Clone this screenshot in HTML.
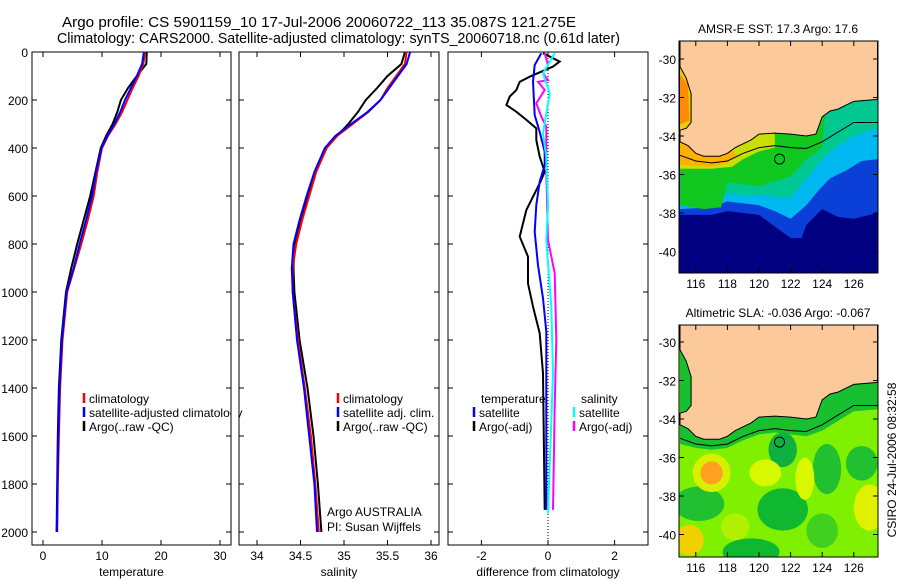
<!DOCTYPE html>
<html><head><meta charset="utf-8"><style>
html,body{margin:0;padding:0;background:#fff;}
svg text{font-family:"Liberation Sans",sans-serif;fill:#000;}
</style></head><body>
<svg id="fig" xmlns="http://www.w3.org/2000/svg" width="900" height="580" viewBox="0 0 900 580">
<rect width="900" height="580" fill="#fff"/>
<text x="62" y="27" font-size="14.5" textLength="514" lengthAdjust="spacingAndGlyphs">Argo profile: CS 5901159_10 17-Jul-2006 20060722_113 35.087S 121.275E</text>
<text x="57" y="43" font-size="14.5" textLength="563" lengthAdjust="spacingAndGlyphs">Climatology: CARS2000. Satellite-adjusted climatology: synTS_20060718.nc (0.61d later)</text>
<g id="panels"></g>
<g id="maps"></g>
<text transform="translate(896,460) rotate(-90)" text-anchor="middle" font-size="12">CSIRO 24-Jul-2006 08:32:58</text>
</svg>
<script>
// ---- data ----
const depths = [0,50,100,150,200,250,300,350,400,500,600,700,800,900,1000,1200,1400,1600,1800,2000];
const tempClim = [17.3,17.0,16.2,15.2,14.3,13.4,12.3,11.0,10.0,9.2,8.6,7.6,6.5,5.3,4.1,3.3,2.9,2.7,2.5,2.4];
const tempSat  = [17.1,16.8,15.9,14.9,13.9,13.1,12.1,10.9,9.9,9.0,8.3,7.3,6.2,5.2,4.0,3.2,2.8,2.6,2.45,2.35];
const tempArgo = [17.6,17.5,15.9,14.4,13.2,12.6,11.8,10.7,9.8,8.9,8.0,6.9,5.8,4.8,3.9,3.1,2.7,2.5,2.4,2.3];
const salClim = [35.72,35.7,35.6,35.5,35.42,35.28,35.1,34.92,34.8,34.68,34.6,34.52,34.45,34.41,34.41,34.47,34.55,34.62,34.67,34.71];
const salSat  = [35.76,35.72,35.62,35.52,35.42,35.27,35.08,34.9,34.78,34.66,34.57,34.49,34.42,34.4,34.41,34.46,34.54,34.6,34.66,34.69];
const salArgo = [35.7,35.66,35.5,35.38,35.25,35.16,35.05,34.92,34.8,34.67,34.58,34.5,34.43,34.42,34.43,34.49,34.58,34.65,34.7,34.74];
const dTempArgoDepth = [5,40,61,103,124,158,186,221,249,283,318,367,436,499,547,658,769,853,964,1061,1172,1339,1908];
const dTempArgo = [-0.15,0.35,0.15,-0.55,-0.85,-0.95,-1.15,-1.25,-0.95,-0.65,-0.35,-0.35,-0.25,-0.1,-0.25,-0.65,-0.85,-0.6,-0.6,-0.45,-0.25,-0.15,-0.1];
const dTempSatDepth = [5,54,124,263,333,416,471,540,638,749,888,1026,1165,1443,1908];
const dTempSat = [-0.2,-0.4,-0.45,-0.4,-0.25,-0.1,-0.1,-0.25,-0.35,-0.4,-0.3,-0.15,-0.05,-0.05,-0.05];
const dSalSatDepth = [5,89,172,339,436,644,783,1061,1339,1922];
const dSalSat = [0.2,-0.15,0.05,-0.15,-0.05,0,-0.05,0.1,0.15,0];
const dSalArgoDepth = [5,54,89,117,124,158,214,269,311,499,783,922,1200,1478,1908];
const dSalArgo = [-0.1,0,-0.15,0,-0.3,-0.1,-0.35,-0.2,-0.05,-0.05,0,0.2,0.25,0.2,0.15];
const depthTicks = [0,200,400,600,800,1000,1200,1400,1600,1800,2000];
const tempTicks = [0,10,20,30];
const salTicks = [34,34.5,35,35.5,36];
const diffTicks = [-2,0,2];
const latTicks = [-30,-32,-34,-36,-38,-40];
const lonTicks = [116,118,120,122,124,126];

const NS='http://www.w3.org/2000/svg';
function mk(tag, attrs, parent){const e=document.createElementNS(NS,tag);for(const k in attrs)e.setAttribute(k,attrs[k]);parent.appendChild(e);return e;}
const panels=document.getElementById('panels');
const yD = d => 52 + 0.24*d;
const TOP=52, BOT=545;

function axesBox(g,x0,x1,ticks,sx,fmt,label,name){
  const r=mk('rect',{x:x0,y:TOP,width:x1-x0,height:BOT-TOP,fill:'none',stroke:'#000','stroke-width':1},g);
  
  
  depthTicks.forEach(d=>{
    mk('line',{x1:x0,x2:x0+5,y1:yD(d),y2:yD(d),stroke:'#000'},g);
    mk('line',{x1:x1,x2:x1-5,y1:yD(d),y2:yD(d),stroke:'#000'},g);
  });
  ticks.forEach(t=>{
    const x=sx(t);
    mk('line',{x1:x,x2:x,y1:BOT,y2:BOT-5,stroke:'#000'},g);
    mk('line',{x1:x,x2:x,y1:TOP,y2:TOP+5,stroke:'#000'},g);
    const tx=mk('text',{x:x,y:560,'font-size':12,'text-anchor':'middle'},g);
    tx.textContent=fmt(t);
    
    
  });
  const xl=mk('text',{x:(x0+x1)/2,y:576,'font-size':12,'text-anchor':'middle'},g);
  xl.textContent=label;
  
  
}
function line(g,xs,ds,sx,color,name){
  const pts=xs.map((v,i)=>sx(v).toFixed(1)+','+yD(ds[i]).toFixed(1)).join(' ');
  const p=mk('polyline',{points:pts,fill:'none',stroke:color,'stroke-width':2},g);
  
  
}
function legend(g,x,y,color,text,name){
  mk('line',{x1:x,x2:x,y1:y-10,y2:y,stroke:color,'stroke-width':2.5},g);
  const t=mk('text',{x:x+5,y:y,'font-size':12},g);
  t.textContent=text;
  
  
}

// Panel 1 temperature
const g1=mk('g',{},panels);


const sT=v=>43+5.9*v;
axesBox(g1,32,231,tempTicks,sT,v=>String(v),'temperature','temperature');
depthTicks.forEach(d=>{const t=mk('text',{x:28,y:yD(d)+5,'font-size':12,'text-anchor':'end'},g1);t.textContent=d;

});
line(g1,tempArgo,depths,sT,'#000','temp-argo-line');
line(g1,tempClim,depths,sT,'#f00','temp-climatology-line');
line(g1,tempSat,depths,sT,'#00f','temp-satellite-line');
legend(g1,84,403,'#f00','climatology','legend-climatology');
legend(g1,84,417,'#00f','satellite-adjusted climatology','legend-satellite');
legend(g1,84,431,'#000','Argo(..raw -QC)','legend-argo');

// Panel 2 salinity
const g2=mk('g',{},panels);


const sS=v=>257+87*(v-34);
mk('rect',{x:231.5,y:380,width:7,height:60,fill:'#fff'},g2);
axesBox(g2,239,439,salTicks,sS,v=>String(v),'salinity','salinity');
line(g2,salArgo,depths,sS,'#000','sal-argo-line');
line(g2,salClim,depths,sS,'#f00','sal-climatology-line');
line(g2,salSat,depths,sS,'#00f','sal-satellite-line');
legend(g2,338,403,'#f00','climatology','legend-sal-climatology');
legend(g2,338,417,'#00f','satellite adj. clim.','legend-sal-satellite');
legend(g2,338,431,'#000','Argo(..raw -QC)','legend-sal-argo');
[['Argo AUSTRALIA',516],['PI: Susan Wijffels',531]].forEach(([s,y])=>{const t=mk('text',{x:327,y:y,'font-size':12},g2);t.textContent=s;

});

// Panel 3 difference
const g3=mk('g',{},panels);


const sD=v=>548+33.3*v;
axesBox(g3,448,648,diffTicks,sD,v=>String(v),'difference from climatology','difference');
mk('line',{x1:sD(0),x2:sD(0),y1:TOP,y2:BOT,stroke:'#000','stroke-dasharray':'1,2'},g3);
line(g3,dTempArgo,dTempArgoDepth,sD,'#000','dtemp-argo-line');
line(g3,dTempSat,dTempSatDepth,sD,'#00f','dtemp-satellite-line');
line(g3,dSalArgo,dSalArgoDepth,sD,'#f0f','dsal-argo-line');
line(g3,dSalSat,dSalSatDepth,sD,'#0ff','dsal-satellite-line');
{const t=mk('text',{x:481,y:403,'font-size':12},g3);t.textContent='temperature';


const t2=mk('text',{x:581,y:403,'font-size':12},g3);t2.textContent='salinity';

}
legend(g3,474,417,'#00f','satellite','legend-dtemp-satellite');
legend(g3,474,431,'#000','Argo(-adj)','legend-dtemp-argo');
legend(g3,574,417,'#0ff','satellite','legend-dsal-satellite');
legend(g3,574,431,'#f0f','Argo(-adj)','legend-dsal-argo');

// ---- maps ----
const maps=document.getElementById('maps');
const coast=[[115,-34.3],[115.5,-34.5],[116,-34.9],[116.5,-35.05],[117.5,-35.05],[118,-34.9],[118.5,-34.6],[119.5,-34.2],[120,-33.9],[121,-33.85],[122,-33.9],[123,-34.0],[123.6,-33.9],[124,-33.0],[124.5,-32.7],[125,-32.6],[125.5,-32.4],[126,-32.2],[127.5,-32.1]];
const westCoast=[[115,-30.4],[115.4,-31.0],[115.7,-31.8],[115.7,-33.3],[115.4,-33.6],[115,-33.7]];
const iso=[[115,-35],[116,-35.3],[117,-35.4],[118,-35.3],[118.5,-35.1],[119,-34.9],[120,-34.6],[121,-34.5],[122,-34.6],[123,-34.65],[124,-34.3],[125,-33.8],[126,-33.3],[127.5,-33.3]];
function drawMap(y0,y1,latY0,title,layers,name){
  const g=mk('g',{},maps);
  
  
  const X=lon=>680+15.8*(lon-115), Y=lat=>latY0+19.25*(-30-lat);
  const cid='clip'+name;
  const cp=mk('clipPath',{id:cid},g);mk('rect',{x:679,y:y0,width:199,height:y1-y0},cp);
  const inner=mk('g',{'clip-path':'url(#'+cid+')'},g);
  const P=arr=>arr.map(p=>X(p[0]).toFixed(1)+','+Y(p[1]).toFixed(1)).join(' ');
  layers(inner,X,Y,P);
  const land=[[115,-28],[127.5,-28],...coast.slice().reverse(),[115,-34.3],[115,-33.7],...westCoast.slice().reverse(),[115,-30.4]];
  const l=mk('polygon',{points:P(land),fill:'#fcc99b',stroke:'#000','stroke-width':1},inner);
  
  
  mk('polyline',{points:P(iso),fill:'none',stroke:'#000','stroke-width':1},inner);
  mk('circle',{cx:X(121.3),cy:Y(-35.2),r:5,fill:'none',stroke:'#000'},inner);
  mk('rect',{x:679,y:y0,width:199,height:y1-y0,fill:'none',stroke:'#000'},g);
  latTicks.forEach(t=>{mk('line',{x1:679,x2:684,y1:Y(t),y2:Y(t),stroke:'#000'},g);mk('line',{x1:878,x2:873,y1:Y(t),y2:Y(t),stroke:'#000'},g);
    const tx=mk('text',{x:676,y:Y(t)+5,'font-size':12,'text-anchor':'end'},g);tx.textContent=t;
    
    });
  lonTicks.forEach(t=>{mk('line',{x1:X(t),x2:X(t),y1:y1,y2:y1-5,stroke:'#000'},g);mk('line',{x1:X(t),x2:X(t),y1:y0,y2:y0+5,stroke:'#000'},g);
    const tx=mk('text',{x:X(t),y:y1+15,'font-size':12,'text-anchor':'middle'},g);tx.textContent=t;
    
    });
  const tt=mk('text',{x:778,y:y0-8,'font-size':12,'text-anchor':'middle'},g);tt.textContent=title;
  
  
}
drawMap(41,273,59,'AMSR-E SST: 17.3 Argo: 17.6',(g,X,Y,P)=>{
  mk('rect',{x:679,y:41,width:199,height:232,fill:'#000080'},g);
  mk('polygon',{points:P([[115,-30],[115,-38.1],[117,-38.1],[118,-37.9],[119,-38.0],[120,-38.1],[121,-38.7],[122,-39.3],[122.7,-39.3],[123,-38.6],[124,-37.8],[125,-38.2],[126,-38.3],[127.5,-38.0],[127.5,-30]]),fill:'#0a3fd8'},g);
  mk('polygon',{points:P([[115,-30],[115,-37.8],[117,-37.7],[118,-37.4],[120,-37.6],[121,-37.9],[122,-38.3],[123,-37.6],[123.8,-36.8],[124.5,-36.2],[125.5,-35.8],[126.5,-35.3],[127.5,-35.2],[127.5,-30]]),fill:'#00b8f0'},g);
  mk('polygon',{points:P([[115,-30],[115,-37.4],[117,-37.3],[118,-37.0],[120,-37.1],[122,-37.2],[123,-36.2],[124,-35.2],[125,-34.5],[126,-34],[127.5,-33.6],[127.5,-30]]),fill:'#00c890'},g);
  mk('polygon',{points:P([[115,-30],[115,-37.6],[116.5,-37.8],[117.6,-37.7],[118,-36.4],[120,-36.6],[122,-36.1],[123,-35.2],[124,-34.6],[124.5,-30]]),fill:'#10c820'},g);
  mk('polygon',{points:P([[115,-34],[115,-35.7],[117,-35.7],[118.3,-35.6],[119,-35.2],[120,-34.8],[121,-34.6],[121,-33],[115,-33]]),fill:'#c8e000'},g);
  mk('polygon',{points:P([[115,-34.8],[115,-35.5],[117,-35.6],[118,-35.4],[118.6,-35.0],[118,-34.5],[115,-34.3]]),fill:'#ffb000'},g);
  mk('polygon',{points:P([[115,-30.3],[115.8,-31],[115.9,-33.6],[115,-33.8]]),fill:'#e8d000'},g);
  mk('polygon',{points:P([[115,-30.8],[115.5,-31.3],[115.6,-33.2],[115,-33.4]]),fill:'#ff8c00'},g);
},'sst-map');
drawMap(325,557,342,'Altimetric SLA: -0.036 Argo: -0.067',(g,X,Y,P)=>{
  mk('rect',{x:679,y:325,width:199,height:232,fill:'#7ff000'},g);
  const E=(lon,lat,rx,ry,c)=>mk('ellipse',{cx:X(lon),cy:Y(lat),rx:rx*15.8,ry:ry*19.25,fill:c},g);
  mk('polygon',{points:P([[115,-34],[115,-35.3],[116,-35.5],[117,-35.6],[118,-35.5],[119,-35.1],[120,-34.8],[121,-34.7],[122,-34.8],[123,-34.9],[124,-34.6],[125,-34.1],[126,-33.6],[127.5,-33.5],[127.5,-30],[115,-30]]),fill:'#18c030'},g);
  E(121.5,-35.6,0.9,0.9,'#10b040');
  E(116.2,-38.4,1.6,0.9,'#20c030');E(121.5,-38.7,1.6,1.1,'#10b830');E(124.3,-36.6,0.9,1.3,'#20c030');
  E(126.5,-36.3,1.0,0.9,'#20c030');E(119.5,-40.9,1.8,0.7,'#10b830');E(124,-39.8,1.0,0.9,'#40d020');
  E(117,-36.8,1.2,1.0,'#d8f000');E(117,-36.8,0.7,0.6,'#ffa020');
  E(120.4,-36.8,1.0,0.7,'#d8f800');E(122.9,-37.1,0.6,1.1,'#d8f800');E(127,-38.6,1.0,1.2,'#e0f000');
  E(115.6,-40.3,0.9,0.8,'#f0d000');E(118.5,-39.6,0.9,0.7,'#b0f000');
},'sla-map');
</script>
</body></html>
